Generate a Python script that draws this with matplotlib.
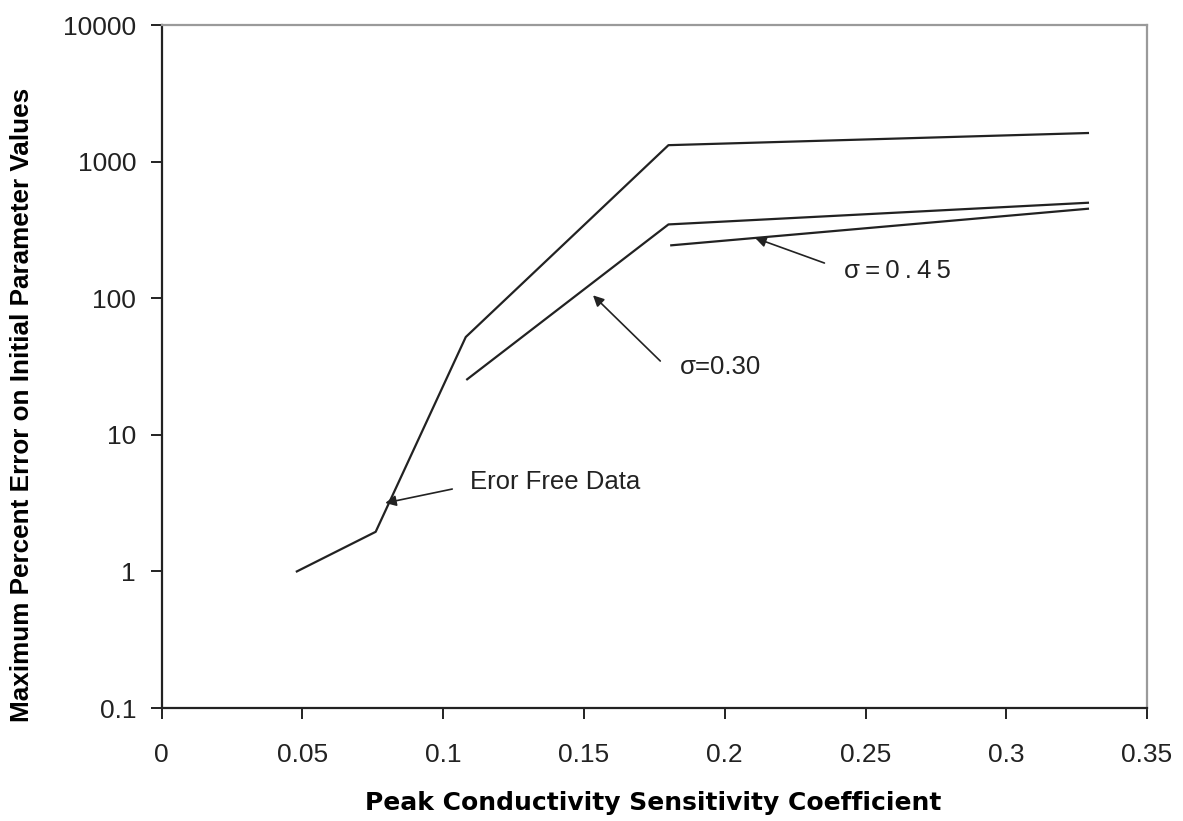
import matplotlib
matplotlib.use("Agg")
import matplotlib.pyplot as plt
from matplotlib.ticker import FixedLocator, NullLocator

# curves
x_free = [0.048, 0.076, 0.108, 0.180, 0.329]
y_free = [1.0, 1.95, 52, 1320, 1620]

x_s30 = [0.1085, 0.180, 0.329]
y_s30 = [25.5, 347, 500]

x_s45 = [0.181, 0.329]
y_s45 = [244, 452]

x_ticks = [0, 0.05, 0.1, 0.15, 0.2, 0.25, 0.3, 0.35]
x_ticklabels = ["0", "0.05", "0.1", "0.15", "0.2", "0.25", "0.3", "0.35"]
y_ticks = [0.1, 1, 10, 100, 1000, 10000]
y_ticklabels = ["0.1", "1", "10", "100", "1000", "10000"]

# annotations: label, text position, arrow tail, arrow tip
notes = [
    ("Eror Free Data", (0.1096, 4.5), (0.1032, 4.01), (0.0794, 3.17)),
    ("\u03c3=0.30", (0.1842, 31.5), (0.1771, 34.7), (0.1532, 105)),
    ("\u03c3\u2009=\u20090\u2009.\u20094\u20095", (0.2425, 159), (0.2354, 181), (0.2108, 276)),
]

plt.rcParams['font.family'] = ['Liberation Sans', 'DejaVu Sans']

fig = plt.figure(figsize=(11.83, 8.21), dpi=100)
ax = fig.add_axes([0.1367, 0.1376, 0.8329, 0.8319])

line_kw = dict(color="#222222", lw=1.6)
ax.plot(x_free, y_free, **line_kw)
ax.plot(x_s30, y_s30, **line_kw)
ax.plot(x_s45, y_s45, **line_kw)

for label, txt, tail, tip in notes:
    ax.annotate("", xy=tip, xytext=tail,
                arrowprops=dict(arrowstyle="-|>", color="#222222", lw=1.2,
                                mutation_scale=16, shrinkA=0, shrinkB=0))
    ax.text(txt[0], txt[1], label, fontsize=18.5, va="center", ha="left",
            color="#222222")

ax.set_yscale("log")
ax.set_xlim(0, 0.35)
ax.set_ylim(0.1, 10000)
ax.xaxis.set_major_locator(FixedLocator(x_ticks))
ax.set_xticklabels(x_ticklabels)
ax.yaxis.set_major_locator(FixedLocator(y_ticks))
ax.set_yticklabels(y_ticklabels)
ax.yaxis.set_minor_locator(NullLocator())
ax.tick_params(axis="both", direction="out", length=8, width=1.4,
               labelsize=19, color="#222222", labelcolor="#222222")
ax.tick_params(axis="x", pad=17.5)
ax.tick_params(axis="y", pad=10.5)

for side in ("left", "bottom"):
    ax.spines[side].set_color("#222222")
    ax.spines[side].set_linewidth(1.6)
for side in ("top", "right"):
    ax.spines[side].set_color("#9a9a9a")
    ax.spines[side].set_linewidth(1.6)

fig.text(653.5 / 1183, 1 - 803 / 821, "Peak Conductivity Sensitivity Coefficient",
         fontsize=18, fontweight="bold", ha="center", va="center",
         family=["DejaVu Sans"])
fig.text(22 / 1183, 1 - 405 / 821, "Maximum Percent Error on Initial Parameter Values",
         fontsize=18.8, fontweight="bold", ha="center", va="center", rotation=90)

fig.savefig("out.png", dpi=100)
